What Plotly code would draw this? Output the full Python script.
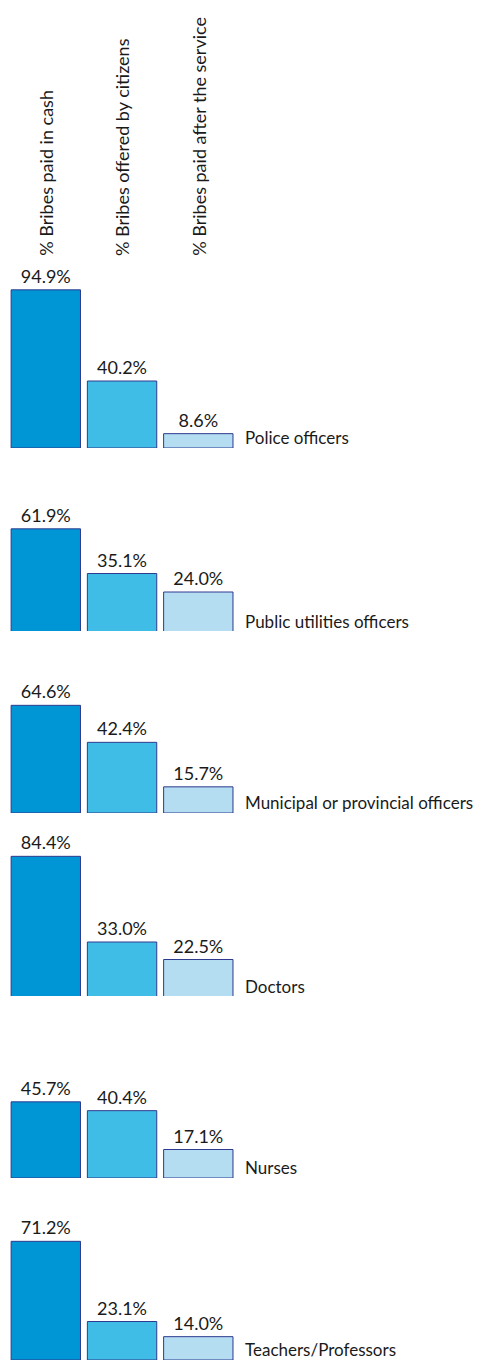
import plotly.graph_objects as go

categories = ["Police officers", "Public utilities officers", "Municipal or provincial officers",
              "Doctors", "Nurses", "Teachers/Professors"]
series = ["% Bribes paid in cash", "% Bribes offered by citizens", "% Bribes paid after the service"]
cash = [94.9, 61.9, 64.6, 84.4, 45.7, 71.2]
offered = [40.2, 35.1, 42.4, 33.0, 40.4, 23.1]
after = [8.6, 24.0, 15.7, 22.5, 17.1, 14.0]

colors = ["#0096D6", "#40BDE6", "#B4DDF2"]
border = "#2E3A8E"
FONT = "Lato, Liberation Sans, Arial, sans-serif"
TXT = "#1a1a1a"
FS_VAL, FS_CAT, FS_HEAD = 18, 17, 18

OFF = 8  # page body margin
W, H = 485 - OFF, 1362 - OFF
baselines = [b - OFF for b in [448, 632, 813, 997, 1178, 1360]]
row_h = 182
yr = 109.2
c0 = 45.8 - OFF   # pixel centre of first bar
step = 76.25

fig = go.Figure()
layout = dict(width=W, height=H, autosize=False, margin=dict(l=0, r=0, t=0, b=0),
              paper_bgcolor="white", plot_bgcolor="white", showlegend=False,
              font=dict(family=FONT, size=FS_VAL, color=TXT))
annotations = []
for i, cat in enumerate(categories):
    n = "" if i == 0 else str(i + 1)
    xa, ya = "x" + n, "y" + n
    vals = [cash[i], offered[i], after[i]]
    fig.add_trace(go.Bar(
        x=[0, 1, 2], y=vals, xaxis=xa, yaxis=ya, width=0.91,
        marker=dict(color=colors, line=dict(color=border, width=1)),
        texttemplate="%{y:.1f}%", textposition="outside",
        textfont=dict(family=FONT, size=FS_VAL, color=TXT),
        cliponaxis=False, hoverinfo="skip"))
    b = baselines[i]
    layout["xaxis" + n] = dict(domain=[0, 1], range=[-c0 / step, (W - c0) / step], anchor=ya,
                               visible=False, fixedrange=True)
    layout["yaxis" + n] = dict(domain=[1 - b / H, 1 - (b - row_h) / H], range=[0, yr],
                               anchor=xa, visible=False, fixedrange=True)
    annotations.append(dict(xref=xa, yref=ya, x=2.46, y=0, xanchor="left", yanchor="bottom",
                            xshift=10, yshift=-2, text=cat, showarrow=False,
                            font=dict(family=FONT, size=FS_CAT, color=TXT)))

for k, s in enumerate(series):
    annotations.append(dict(xref="x", yref="paper", x=k, y=1 - (258 - OFF) / H, xanchor="center",
                            yanchor="bottom", textangle=-90, text=s, showarrow=False,
                            font=dict(family=FONT, size=FS_HEAD, color=TXT)))

layout["annotations"] = annotations
fig.update_layout(**layout)
fig.write_html("out.html")
